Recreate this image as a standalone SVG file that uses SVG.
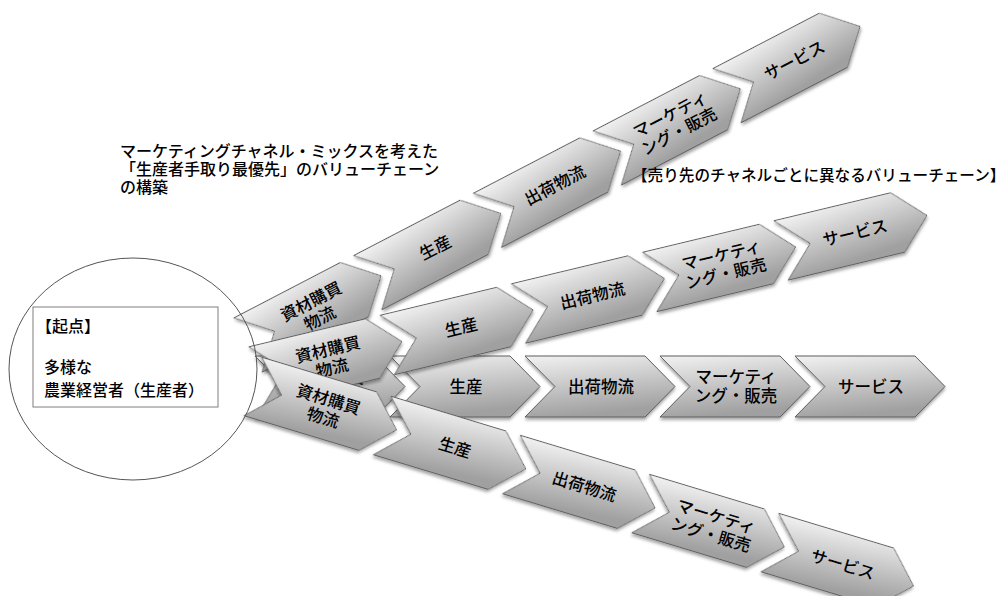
<svg xmlns="http://www.w3.org/2000/svg" width="1008" height="596" viewBox="0 0 1008 596">
<defs>
<linearGradient id="g" x1="0" y1="0" x2="0.25" y2="1">
<stop offset="0" stop-color="#f2f2f2"/>
<stop offset="1" stop-color="#a0a0a0"/>
</linearGradient>
<filter id="sh" x="-10%" y="-20%" width="125%" height="160%">
<feDropShadow dx="0" dy="2.5" stdDeviation="1.5" flood-color="#000" flood-opacity="0.35"/>
</filter>
<path id="chev" d="M0,-30.5 H120 L150,0 L120,30.5 H0 L30,0 Z"/>
</defs>
<style>
.c { fill:url(#g); stroke:#5f5f5f; stroke-width:1; filter:url(#sh); }
.t { font-family:"Liberation Sans","Noto Sans CJK JP",sans-serif; font-size:16px; font-weight:500; fill:#000; }
.k { font-family:"Liberation Sans","Noto Sans CJK JP",sans-serif; font-size:16.5px; font-weight:500; fill:#000; text-anchor:middle; }
</style>
<rect width="1008" height="596" fill="#fff"/>

<g id="chain-middle" transform="translate(255,386.5)">
<g id="m1"><use href="#chev" class="c"/><text class="k" x="76" y="-3.5">資材購買</text><text class="k" x="76" y="15.5">物流</text></g>
<g id="m2" transform="translate(135,0)"><use href="#chev" class="c"/><text class="k" x="76" y="6">生産</text></g>
<g id="m3" transform="translate(270,0)"><use href="#chev" class="c"/><text class="k" x="76" y="6">出荷物流</text></g>
<g id="m4" transform="translate(405,0)"><use href="#chev" class="c"/><text class="k" x="76" y="-3.5">マーケティ</text><text class="k" x="76" y="15.5">ング・販売</text></g>
<g id="m5" transform="translate(540,0)"><use href="#chev" class="c"/><text class="k" x="76" y="6">サービス</text></g>
</g>

<g id="chain-top" transform="translate(248,345) rotate(-27.5)">
<g id="a1"><use href="#chev" class="c"/><text class="k" x="76" y="-3.5">資材購買</text><text class="k" x="76" y="15.5">物流</text></g>
<g id="a2" transform="translate(135,0)"><use href="#chev" class="c"/><text class="k" x="76" y="6">生産</text></g>
<g id="a3" transform="translate(270,0)"><use href="#chev" class="c"/><text class="k" x="76" y="6">出荷物流</text></g>
<g id="a4" transform="translate(405,0)"><use href="#chev" class="c"/><text class="k" x="76" y="-3.5">マーケティ</text><text class="k" x="76" y="15.5">ング・販売</text></g>
<g id="a5" transform="translate(540,0)"><use href="#chev" class="c"/><text class="k" x="76" y="6">サービス</text></g>
</g>

<g id="chain-second" transform="translate(256,376.5) rotate(-13.5)">
<g id="b1"><use href="#chev" class="c"/><text class="k" x="76" y="-3.5">資材購買</text><text class="k" x="76" y="15.5">物流</text></g>
<g id="b2" transform="translate(135,0)"><use href="#chev" class="c"/><text class="k" x="76" y="6">生産</text></g>
<g id="b3" transform="translate(270,0)"><use href="#chev" class="c"/><text class="k" x="76" y="6">出荷物流</text></g>
<g id="b4" transform="translate(405,0)"><use href="#chev" class="c"/><text class="k" x="76" y="-3.5">マーケティ</text><text class="k" x="76" y="15.5">ング・販売</text></g>
<g id="b5" transform="translate(540,0)"><use href="#chev" class="c"/><text class="k" x="76" y="6">サービス</text></g>
</g>

<g id="chain-bottom" transform="translate(253,386.5) rotate(16.8)">
<g id="d1"><use href="#chev" class="c"/><text class="k" x="76" y="-3.5">資材購買</text><text class="k" x="76" y="15.5">物流</text></g>
<g id="d2" transform="translate(135,0)"><use href="#chev" class="c"/><text class="k" x="76" y="6">生産</text></g>
<g id="d3" transform="translate(270,0)"><use href="#chev" class="c"/><text class="k" x="76" y="6">出荷物流</text></g>
<g id="d4" transform="translate(405,0)"><use href="#chev" class="c"/><text class="k" x="76" y="-3.5">マーケティ</text><text class="k" x="76" y="15.5">ング・販売</text></g>
<g id="d5" transform="translate(540,0)"><use href="#chev" class="c"/><text class="k" x="76" y="6">サービス</text></g>
</g>

<g id="origin">
<rect x="33" y="307" width="185" height="100" fill="#fff" stroke="#7f7f7f" stroke-width="1"/>
<ellipse cx="133" cy="369" rx="124" ry="111" fill="none" stroke="#555" stroke-width="1"/>
<text class="t" x="36" y="332">【起点】</text>
<text class="t" x="44" y="373">多様な</text>
<text class="t" x="44" y="396">農業経営者（生産者）</text>
</g>

<g id="caption-left">
<text class="t" x="120" y="157">マーケティングチャネル・ミックスを考えた</text>
<text class="t" x="120" y="175">「生産者手取り最優先」のバリューチェーン</text>
<text class="t" x="120" y="193">の構築</text>
</g>
<g id="caption-right">
<text class="t" x="632" y="181" style="font-size:15.6px">【売り先のチャネルごとに異なるバリューチェーン】</text>
</g>
</svg>
